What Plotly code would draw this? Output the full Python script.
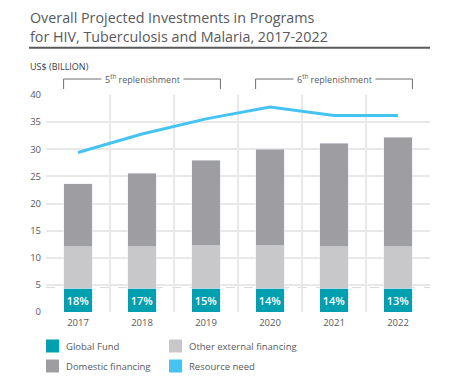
import plotly.graph_objects as go

years = ["2017", "2018", "2019", "2020", "2021", "2022"]
global_fund = [4.4, 4.4, 4.4, 4.4, 4.4, 4.4]
other_external = [7.6, 7.6, 7.8, 7.8, 7.6, 7.6]
domestic = [11.6, 13.6, 15.8, 17.8, 19.1, 20.2]
resource_need = [29.4, 32.8, 35.6, 37.8, 36.2, 36.2]
gf_share = ["18%", "17%", "15%", "14%", "14%", "13%"]

C_GF = "#00a0b1"
C_OTHER = "#c8c8ca"
C_DOM = "#9e9ea2"
C_NEED = "#45c4f3"
TXT = "#58595b"
FONT = "Open Sans"

x = list(range(len(years)))
W, H = 454, 385
L, R, T, B = 46, 24, 95, 73
pw, ph = W - L - R, H - T - B

def px(xp):
    return (xp - L) / pw

def py(yp):
    return (H - B - yp) / ph

fig = go.Figure()
fig.add_bar(x=x, y=global_fund, marker_color=C_GF, width=0.45, name="Global Fund",
            text=gf_share, textposition="inside", insidetextanchor="middle",
            textfont=dict(color="white", size=11, family=FONT, weight=600),
            cliponaxis=False)
fig.add_bar(x=x, y=other_external, marker_color=C_OTHER, width=0.45, name="Other external financing")
fig.add_bar(x=x, y=domestic, marker_color=C_DOM, width=0.45, name="Domestic financing")
fig.add_scatter(x=x, y=resource_need, mode="lines", line=dict(color=C_NEED, width=3),
                name="Resource need")

shapes = []
annotations = []

# dashed reference line
shapes.append(dict(type="line", xref="paper", yref="y", x0=0, x1=1, y0=4.5, y1=4.5,
                   line=dict(color="#d9d9d9", width=1, dash="dash"), layer="below"))

# title rule
shapes.append(dict(type="line", xref="paper", yref="paper", x0=px(29), x1=px(430),
                   y0=py(47.7), y1=py(47.7), line=dict(color="#5a5a5c", width=2)))

annotations.append(dict(xref="paper", yref="paper", x=px(28), y=py(6), xanchor="left",
                        yanchor="top", align="left", showarrow=False,
                        text="Overall Projected Investments in Programs<br>for HIV, Tuberculosis and Malaria, 2017-2022",
                        font=dict(family=FONT, size=14.3, color=TXT)))
annotations.append(dict(xref="paper", yref="paper", x=px(28), y=py(66), xanchor="left",
                        yanchor="middle", showarrow=False, text="US$ (BILLION)",
                        font=dict(family=FONT, size=9, color="#3d3d3f")))

# replenishment brackets
for (a, b, label) in [(-0.225, 2.225, "5<sup>th</sup> replenishment"),
                      (2.775, 5.225, "6<sup>th</sup> replenishment")]:
    ytop, ybot = py(79), py(89)
    shapes.append(dict(type="path", xref="x", yref="paper",
                       path=f"M {a},{ybot} L {a},{ytop} L {b},{ytop} L {b},{ybot}",
                       line=dict(color="#6d6e70", width=1)))
    annotations.append(dict(xref="x", yref="paper", x=(a + b) / 2, y=ytop, xanchor="center",
                            yanchor="middle", showarrow=False, text=label, bgcolor="white",
                            borderpad=3, font=dict(family=FONT, size=9, color=TXT)))

# legend
legend_items = [(46, 346, C_GF, "Global Fund"), (169, 346, C_OTHER, "Other external financing"),
                (46, 366, C_DOM, "Domestic financing"), (169, 366, C_NEED, "Resource need")]
for (lx, ly, col, lab) in legend_items:
    shapes.append(dict(type="rect", xref="paper", yref="paper", x0=px(lx), x1=px(lx + 13),
                       y0=py(ly - 6.5), y1=py(ly + 6.5), fillcolor=col, line=dict(width=0)))
    annotations.append(dict(xref="paper", yref="paper", x=px(lx + 18), y=py(ly),
                            xanchor="left", yanchor="middle", showarrow=False, text=lab,
                            font=dict(family=FONT, size=9.5, color=TXT)))

fig.update_layout(
    width=W, height=H, margin=dict(l=L, r=R, t=T, b=B),
    barmode="stack", showlegend=False, plot_bgcolor="white", paper_bgcolor="white",
    font=dict(family=FONT, size=9, color=TXT),
    shapes=shapes, annotations=annotations,
    xaxis=dict(range=[-0.5, 5.5], tickvals=x, ticktext=years, showgrid=False, zeroline=False,
               ticks="", tickfont=dict(size=9.5, color=TXT), ticklabelstandoff=3,
               minor=dict(tickvals=[i - 0.5 for i in range(7)], showgrid=True,
                          gridcolor="#e8e8e8", gridwidth=1.5, ticks="")),
    yaxis=dict(range=[0, 40], dtick=5, showgrid=True, gridcolor="#e8e8e8", gridwidth=1.5,
               zeroline=False, ticks="", tickfont=dict(size=9.5, color=TXT), ticklabelstandoff=4),
)

fig.write_html("out.html", config={"displayModeBar": False},
               post_script="document.body.style.margin='0';document.body.style.padding='0';")
